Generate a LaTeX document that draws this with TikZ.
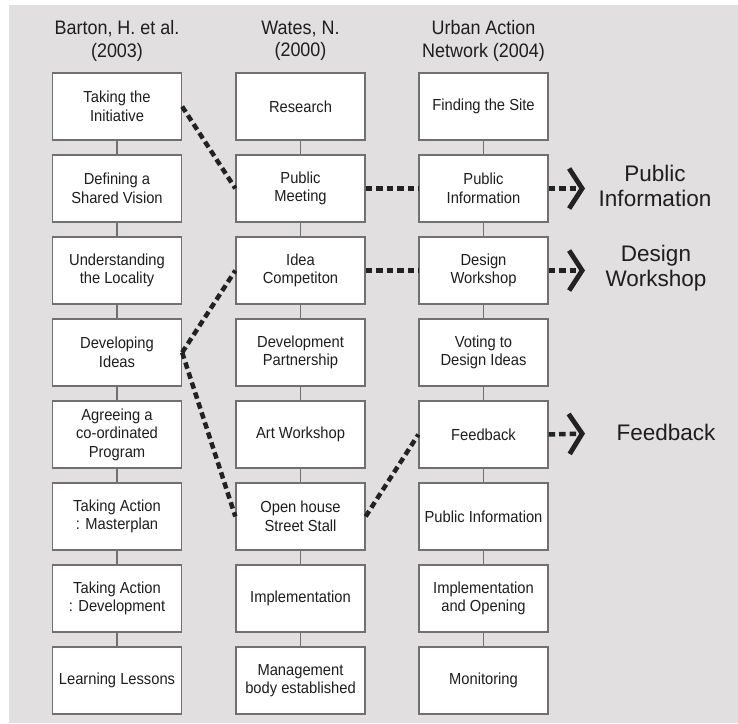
\documentclass[tikz,border=0pt]{standalone}
\usepackage{fontspec}
\setmainfont{Liberation Sans}[FakeStretch=0.92]
\newfontfamily\labelfont{Liberation Sans}
\usetikzlibrary{arrows.meta}
\definecolor{bg}{HTML}{E1DFE0}
\definecolor{boxline}{HTML}{707070}
\definecolor{txt}{HTML}{1E1E1E}
\definecolor{dash}{HTML}{222222}
\tikzset{
  stepbox/.style={draw=boxline, fill=white, line width=1.3pt, minimum width=129pt,
    minimum height=67pt, align=center, inner sep=0pt, text=txt,
    font=\fontsize{16}{18.5}\selectfont},
  headtxt/.style={align=center, text=txt, inner sep=0pt, font=\fontsize{19.5}{22.5}\selectfont},
  biglabel/.style={align=center, text=txt, inner sep=0pt, font=\labelfont\fontsize{22.5}{25}\selectfont},
  vlink/.style={draw=boxline, line width=1.6pt},
  dlink/.style={draw=dash, line width=4.5pt, dash pattern=on 6.5pt off 4pt},
  chev/.style={-{Straight Barb[length=13pt,width=40pt,line width=4.8pt]}}
}
\begin{document}
\begin{tikzpicture}[x=1pt,y=-1pt]
\useasboundingbox (0,0) rectangle (738,723);
\fill[bg] (9,5) rectangle (738,723);

% headers
\node[headtxt] (h1) at (117,41) {Barton, H. et al.\\(2003)};
\node[headtxt] (h2) at (300.5,41) {Wates, N.\\(2000)};
\node[headtxt] (h3) at (483.5,41) {Urban Action\\Network (2004)};

% column 1
\node[stepbox] (a1) at (117,106.5) {Taking the\\Initiative};
\node[stepbox] (a2) at (117,188.5) {Defining a\\Shared Vision};
\node[stepbox] (a3) at (117,270.5) {Understanding\\the Locality};
\node[stepbox] (a4) at (117,352.5) {Developing\\Ideas};
\node[stepbox] (a5) at (117,434.5) {Agreeing a\\co-ordinated\\Program};
\node[stepbox] (a6) at (117,516.5) {Taking Action\\: Masterplan};
\node[stepbox] (a7) at (117,598.5) {Taking Action\\: Development};
\node[stepbox] (a8) at (117,680.5) {Learning Lessons};

% column 2
\node[stepbox] (b1) at (300.5,106.5) {Research};
\node[stepbox] (b2) at (300.5,188.5) {Public\\Meeting};
\node[stepbox] (b3) at (300.5,270.5) {Idea\\Competiton};
\node[stepbox] (b4) at (300.5,352.5) {Development\\Partnership};
\node[stepbox] (b5) at (300.5,434.5) {Art Workshop};
\node[stepbox] (b6) at (300.5,516.5) {Open house\\Street Stall};
\node[stepbox] (b7) at (300.5,598.5) {Implementation};
\node[stepbox] (b8) at (300.5,680.5) {Management\\body established};

% column 3
\node[stepbox] (c1) at (483.5,106.5) {Finding the Site};
\node[stepbox] (c2) at (483.5,188.5) {Public\\Information};
\node[stepbox] (c3) at (483.5,270.5) {Design\\Workshop};
\node[stepbox] (c4) at (483.5,352.5) {Voting to\\Design Ideas};
\node[stepbox] (c5) at (483.5,434.5) {Feedback};
\node[stepbox] (c6) at (483.5,516.5) {Public Information};
\node[stepbox] (c7) at (483.5,598.5) {Implementation\\and Opening};
\node[stepbox] (c8) at (483.5,680.5) {Monitoring};

% vertical links
\foreach \c in {a,b,c}{
  \foreach \i [evaluate=\i as \j using int(\i+1)] in {1,...,7}{
    \draw[vlink] (\c\i.south) -- (\c\j.north);
  }
}

% dashed links
\draw[dlink] (a1.east) -- (b2.west);
\draw[dlink] (b2.east) -- (c2.west);
\draw[dlink] (b3.east) -- (c3.west);
\draw[dlink] (a4.east) -- (b3.west);
\draw[dlink] (a4.east) -- (b6.west);
\draw[dlink] (b6.east) -- (c5.west);

% outcome labels
\node[biglabel] (l2) at (655,186) {Public\\Information};
\node[biglabel] (l3) at (656,268) {Design\\Workshop};
\node[biglabel] (l5) at (666,432) {Feedback};

\coordinate (t2) at (585,188.5);
\coordinate (t3) at (585,270.5);
\coordinate (t5) at (585,433.5);
\draw[dlink,chev] (c2.east) -- (t2);
\draw[dlink,chev] (c3.east) -- (t3);
\draw[dlink,chev] (c5.east) -- (t5);
\end{tikzpicture}
\end{document}
